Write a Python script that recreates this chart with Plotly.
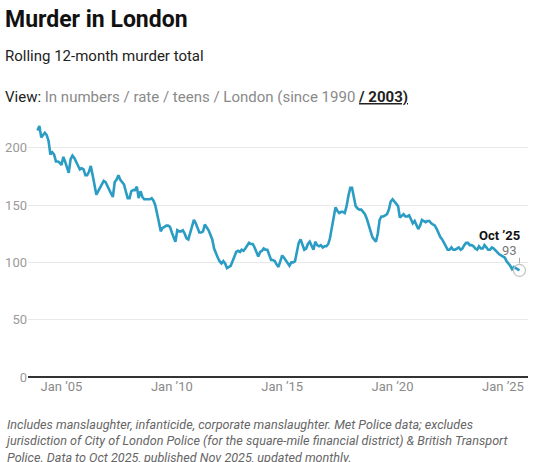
import pandas as pd
import plotly.graph_objects as go

# rolling 12-month murder totals, Dec 2003 .. Oct 2025
start_month = "2003-12-01"
values = [
    215,                                                        # 2003 Dec
    219, 209, 211, 213, 211, 206, 194, 196, 194, 188, 188, 187,  # 2004
    185, 192, 188, 183, 178, 190, 193, 191, 188, 185, 181, 182,  # 2005
    181, 176, 176, 179, 184, 176, 166, 159, 162, 165, 168, 171,  # 2006
    170, 166, 163, 160, 157, 170, 172, 176, 172, 170, 168, 162,  # 2007
    156, 156, 162, 163, 163, 166, 156, 162, 157, 155, 155, 155,  # 2008
    155, 156, 154, 150, 141, 135, 127, 130, 131, 132, 132, 131,  # 2009
    126, 121, 118, 128, 127, 127, 128, 125, 121, 120, 126, 132,  # 2010
    137, 134, 130, 126, 126, 127, 133, 131, 128, 124, 120, 112,  # 2011
    107, 104, 101, 99, 101, 99, 95, 96, 97, 101, 105, 109,       # 2012
    110, 109, 111, 110, 112, 115, 117, 116, 116, 113, 109, 105,  # 2013
    109, 110, 112, 111, 111, 106, 102, 102, 101, 98, 96, 101,    # 2014
    106, 104, 102, 99, 97, 100, 100, 101, 110, 117, 120, 116,    # 2015
    111, 112, 116, 118, 114, 111, 118, 115, 114, 115, 113, 114,  # 2016
    114, 116, 121, 130, 142, 148, 145, 143, 144, 144, 143, 149,  # 2017
    158, 165, 165, 157, 149, 147, 146, 146, 144, 142, 138, 133,  # 2018
    126, 122, 120, 118, 125, 137, 140, 140, 141, 142, 146, 153,  # 2019
    155, 153, 151, 149, 139, 141, 142, 140, 140, 141, 138, 134,  # 2020
    136, 133, 129, 132, 137, 136, 135, 136, 136, 134, 133, 132,  # 2021
    129, 125, 122, 120, 117, 114, 111, 111, 113, 111, 111, 112,  # 2022
    113, 111, 112, 115, 117, 117, 115, 115, 114, 112, 111, 114,  # 2023
    112, 112, 115, 113, 111, 111, 113, 112, 110, 109, 107, 106,  # 2024
    105, 104, 101, 99, 97, 94, 96, 95, 94, 93,                   # 2025
]
months = pd.date_range(start_month, periods=len(values), freq="MS")

tick_dates = ["2005-01-01", "2010-01-01", "2015-01-01", "2020-01-01", "2025-01-01"]
tick_labels = ["Jan ’05", "Jan ’10", "Jan ’15", "Jan ’20", "Jan ’25"]
y_ticks = [0, 50, 100, 150, 200]

LINE = "#2b9cc3"
FONT = "Roboto"

fig = go.Figure()
fig.add_trace(go.Scatter(
    x=months, y=values, mode="lines",
    line=dict(color=LINE, width=2.6),
    hoverinfo="skip", showlegend=False,
))
# hollow ring on the latest point
fig.add_trace(go.Scatter(
    x=[months[-1]], y=[values[-1]], mode="markers",
    marker=dict(symbol="circle-open", size=12, color="#c4c4c4", line=dict(width=1.2)),
    hoverinfo="skip", showlegend=False,
))

last_x, last_y = months[-1], values[-1]
fig.add_shape(type="line", xref="x", yref="y",
              x0=last_x, x1=last_x, y0=last_y + 6, y1=last_y + 11,
              line=dict(color="#aaaaaa", width=1))

annotations = [
    dict(text="<b>Murder in London</b>", x=-0.05, y=1.385,
         font=dict(size=23, color="#111111")),
    dict(text="Rolling 12-month murder total", x=-0.05, y=1.244,
         font=dict(size=15, color="#222222")),
    dict(text="View: <span style='color:#8a8a8a'>In numbers / rate / teens / London (since 1990 </span>"
              "<b><u>/ 2003)</u></b>",
         x=-0.05, y=1.085, font=dict(size=15, color="#222222")),
    dict(text="Includes manslaughter, infanticide, corporate manslaughter. Met Police data; excludes<br>"
              "jurisdiction of City of London Police (for the square-mile financial district) &amp; British Transport<br>"
              "Police. Data to Oct 2025, published Nov 2025, updated monthly.",
         x=-0.05, y=-0.147, yanchor="top", align="left",
         font=dict(size=12.6, color="#666666", style="italic")),
]
for a in annotations:
    a.setdefault("yanchor", "middle")
    fig.add_annotation(xref="paper", yref="paper", xanchor="left",
                       showarrow=False, **a)

fig.add_annotation(x=last_x, y=last_y, xref="x", yref="y", text="<b>Oct ’25</b>",
                   xanchor="right", yanchor="middle", xshift=3, yshift=35,
                   showarrow=False, font=dict(size=13, color="#111111"))
fig.add_annotation(x=last_x, y=last_y, xref="x", yref="y", text=str(last_y),
                   xanchor="right", yanchor="middle", xshift=0, yshift=20,
                   showarrow=False, font=dict(size=13, color="#777777"))

fig.update_layout(
    width=534, height=462,
    margin=dict(l=28, r=6, t=119, b=85),
    paper_bgcolor="white", plot_bgcolor="white",
    font=dict(family=FONT, color="#333333"),
    xaxis=dict(
        range=["2003-06-27", "2026-02-19"],
        tickvals=tick_dates, ticktext=tick_labels,
        showgrid=False, zeroline=False, showline=False, ticks="",
        tickfont=dict(size=13, color="#8a8a8a"),
    ),
    yaxis=dict(
        range=[0, 225], tickvals=y_ticks,
        showgrid=True, gridcolor="#e8e8e8", gridwidth=1,
        zeroline=True, zerolinecolor="#333333", zerolinewidth=1.5,
        showline=False, ticks="",
        tickfont=dict(size=13, color="#9a9a9a"),
    ),
)

# page default margin would push the chart 8px off
fig.write_html("out.html", config={"displayModeBar": False},
               post_script="document.body.style.margin='0';")
